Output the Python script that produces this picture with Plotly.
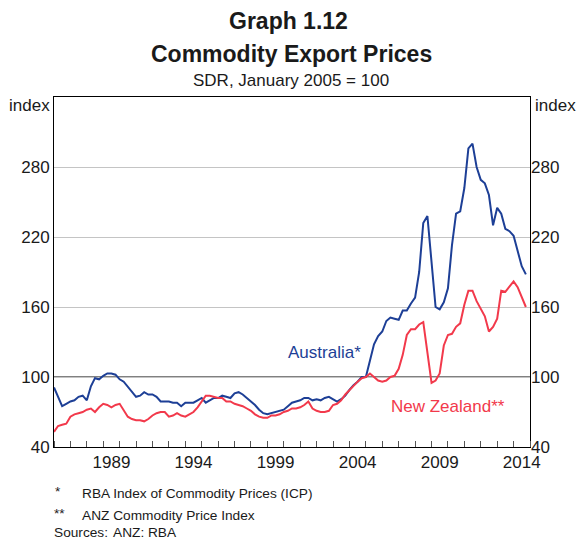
import pandas as pd
import plotly.graph_objects as go

# ---------------- data (quarterly, SDR, January 2005 = 100) ----------------
quarters = pd.date_range("1986-01-01", periods=116, freq="3MS")

australia = [
    91, 83, 75, 77,   79, 80, 83, 84,   80, 92, 99, 98,   101, 103, 103, 102,
    98, 96, 92, 88,   83, 84, 87, 85,   85, 83, 79, 79,   79, 78, 78, 75,
    78, 78, 78, 80,   82, 78, 80, 82,   82, 84, 83, 82,   86, 87, 85, 82,
    79, 76, 72, 69,   68, 69, 70, 71,   72, 75, 78, 79,   80, 82, 82, 80,
    81, 80, 82, 83,   81, 79, 81, 84,   89, 93, 96, 100,  100, 115, 128, 135,
    139, 148, 151, 150,  149, 157, 157, 163,  168, 190, 232, 238,
    196, 160, 158, 164,  176, 213, 240, 242,  262, 296, 300, 280,
    269, 266, 256, 230,  245, 240, 227, 225,  221, 208, 195, 188,
]

new_zealand = [
    53, 58, 59, 60,   66, 68, 69, 70,   72, 73, 70, 74,   77, 76, 74, 76,
    77, 72, 66, 64,   63, 63, 62, 64,   67, 69, 70, 70,   66, 67, 69, 67,
    66, 68, 70, 74,   79, 84, 84, 83,   82, 82, 79, 79,   77, 76, 75, 73,
    71, 68, 66, 65,   65, 67, 67, 68,   70, 71, 73, 73,   74, 76, 79, 73,
    71, 70, 70, 71,   76, 77, 80, 85,   89, 93, 96, 99,   100, 103, 100, 97,
    96, 97, 100, 101,  107, 119, 136, 141,  141, 145, 147, 122,
    95, 97, 103, 127,  136, 137, 143, 146,  162, 174, 174, 165,
    159, 152, 139, 143,  150, 174, 173, 178,  182, 177, 169, 160,
]

y_ticks = [40, 100, 160, 220, 280]
year_labels = ["1989", "1994", "1999", "2004", "2009", "2014"]
BASE = 100

BLUE = "#1d3f96"
RED = "#f2394b"
FONT = "Liberation Sans, Arial, sans-serif"
TXT = "#1a1a1a"

# plot-area geometry in pixels (for placing page text)
L, R, T, B = 54, 530, 97, 447


def px(xp):
    return (xp - L) / (R - L)


def py(yp):
    return (B - yp) / (B - T)


fig = go.Figure()
fig.add_trace(go.Scatter(x=quarters, y=australia, mode="lines",
                         line=dict(color=BLUE, width=2), showlegend=False,
                         yaxis="y"))
fig.add_trace(go.Scatter(x=quarters, y=new_zealand, mode="lines",
                         line=dict(color=RED, width=2), showlegend=False,
                         yaxis="y2"))

fig.add_shape(type="line", xref="paper", x0=0, x1=1, yref="y", y0=BASE, y1=BASE,
              line=dict(color="#000000", width=1), layer="below")

ann = []
ann.append(dict(text="<b>Graph 1.12</b>", x=px(288), y=py(21), font=dict(size=23)))
ann.append(dict(text="<b>Commodity Export Prices</b>", x=px(291), y=py(54), font=dict(size=23)))
ann.append(dict(text="SDR, January 2005 = 100", x=px(291), y=py(81), font=dict(size=17)))
ann.append(dict(text="index", x=px(52), y=py(105), xanchor="right", font=dict(size=17)))
ann.append(dict(text="index", x=px(533), y=py(105), xanchor="left", font=dict(size=17)))
ann.append(dict(text="*", x=px(53), y=py(491), xanchor="left", font=dict(size=13.7)))
ann.append(dict(text="RBA Index of Commodity Prices (ICP)", x=px(80), y=py(493),
                xanchor="left", font=dict(size=13.7)))
ann.append(dict(text="**", x=px(52), y=py(513), xanchor="left", font=dict(size=13.7)))
ann.append(dict(text="ANZ Commodity Price Index", x=px(80), y=py(515),
                xanchor="left", font=dict(size=13.7)))
ann.append(dict(text="Sources:", x=px(52), y=py(532), xanchor="left", font=dict(size=13.7)))
ann.append(dict(text="ANZ: RBA", x=px(111), y=py(532), xanchor="left", font=dict(size=13.7)))
for a in ann:
    a.setdefault("xanchor", "center")
    a.update(xref="paper", yref="paper", yanchor="middle", showarrow=False)
    a["font"].update(family=FONT, color=TXT)

# series labels, in data coordinates
ann.append(dict(text="Australia*", x="2002-06-15", y=121, xref="x", yref="y",
                showarrow=False, font=dict(family=FONT, size=17, color=BLUE)))
ann.append(dict(text="New Zealand**", x="2010-01-01", y=74.5, xref="x", yref="y",
                showarrow=False, font=dict(family=FONT, size=17, color=RED)))

mid_year = [f"{y}-07-02" for y in year_labels]

fig.update_layout(
    width=576, height=541,
    margin=dict(l=L, r=576 - R, t=T, b=541 - B),
    paper_bgcolor="white", plot_bgcolor="white",
    font=dict(family=FONT, color=TXT),
    annotations=ann,
    xaxis=dict(
        type="date", range=["1986-01-01", "2015-01-01"],
        tickmode="array", tickvals=mid_year, ticktext=year_labels,
        ticks="", showgrid=False,
        showline=True, linecolor="#000000", linewidth=1, mirror=True,
        tickfont=dict(size=17, color=TXT),
        minor=dict(tick0="1986-01-01", dtick="M12", ticks="inside",
                   ticklen=6, tickcolor="#555555", tickwidth=1, showgrid=False),
    ),
    yaxis=dict(
        range=[40, 340], tickmode="array", tickvals=y_ticks,
        ticks="", showgrid=True, gridcolor="#c4c4c4", gridwidth=1,
        zeroline=False,
        showline=True, linecolor="#000000", linewidth=1, mirror=True,
        tickfont=dict(size=17, color=TXT),
    ),
    yaxis2=dict(
        range=[40, 340], tickmode="array", tickvals=y_ticks,
        overlaying="y", side="right", ticks="", showgrid=False,
        zeroline=False, showline=False,
        tickfont=dict(size=17, color=TXT),
    ),
)

fig.write_html("out.html", config={"displayModeBar": False},
               post_script="document.body.style.margin='0';")
